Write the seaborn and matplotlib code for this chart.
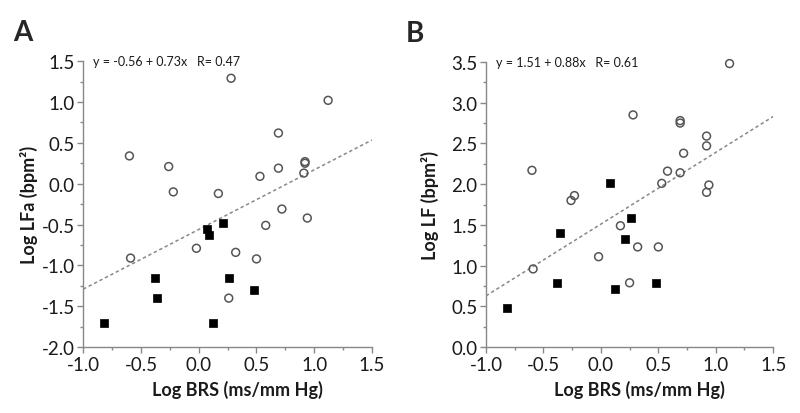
import numpy as np
import pandas as pd
import matplotlib
matplotlib.use("Agg")
import matplotlib.pyplot as plt
from matplotlib.ticker import MultipleLocator, FormatStrFormatter
import seaborn as sb

sb.set_style("ticks")
plt.rcParams["font.family"] = ["Lato", "DejaVu Sans"]

# panel A: Log LFa vs Log BRS
a_open_x = [-0.60, -0.26, -0.22, 0.17, 0.28, 0.53, 0.69, 0.69, 0.92, 0.92, 0.91, 1.12,
            0.72, 0.58, 0.94, -0.02, -0.59, 0.32, 0.50, 0.26]
a_open_y = [0.34, 0.21, -0.10, -0.12, 1.29, 0.09, 0.62, 0.19, 0.27, 0.25, 0.13, 1.02,
            -0.31, -0.51, -0.42, -0.79, -0.91, -0.84, -0.92, -1.40]
a_fill_x = [0.07, 0.09, 0.21, -0.38, -0.36, 0.26, 0.48, -0.82, 0.12]
a_fill_y = [-0.55, -0.63, -0.48, -1.15, -1.40, -1.15, -1.30, -1.71, -1.71]
a_fit = (-0.56, 0.73)
a_text = "y = -0.56 + 0.73x   R= 0.47"

# panel B: Log LF vs Log BRS
b_open_x = [-0.60, -0.26, -0.23, 0.28, 0.53, 0.58, 0.69, 0.69, 0.69, 0.72, 0.92, 0.92,
            0.92, 0.94, 1.12, 0.17, -0.02, -0.59, 0.32, 0.50, 0.25]
b_open_y = [2.17, 1.80, 1.86, 2.85, 2.01, 2.16, 2.78, 2.75, 2.14, 2.38, 2.59, 2.47,
            1.90, 1.99, 3.48, 1.49, 1.11, 0.96, 1.23, 1.23, 0.79]
b_fill_x = [0.08, 0.26, -0.36, 0.21, -0.38, 0.12, 0.48, -0.82]
b_fill_y = [2.01, 1.58, 1.40, 1.33, 0.79, 0.71, 0.79, 0.48]
b_fit = (1.51, 0.88)
b_text = "y = 1.51 + 0.88x   R= 0.61"

fig = plt.figure(figsize=(8, 4.14), dpi=100)
ax_a = fig.add_axes([0.104, 0.159, 0.361, 0.691])
ax_b = fig.add_axes([0.6075, 0.159, 0.359, 0.689])

panels = [
    (ax_a, a_open_x, a_open_y, a_fill_x, a_fill_y, a_fit, a_text, (-2.0, 1.5),
     "Log LFa (bpm²)", "A", -0.243, -0.155),
    (ax_b, b_open_x, b_open_y, b_fill_x, b_fill_y, b_fit, b_text, (0.0, 3.5),
     "Log LF (bpm²)", "B", -0.279, -0.165),
]

for ax, ox, oy, fx, fy, fit, txt, ylim, ylab, letter, lx, ylx in panels:
    ax.axline((0, fit[0]), slope=fit[1], color="#888888", linestyle=(0, (2.2, 1.8)), lw=1.1, zorder=1)
    sb.scatterplot(x=ox, y=oy, ax=ax, marker="o", s=32, facecolors="none",
                   edgecolor="#555555", linewidth=1.1, zorder=3, clip_on=False)
    sb.scatterplot(x=fx, y=fy, ax=ax, marker="s", s=30, color="black",
                   edgecolor="black", linewidth=0.5, zorder=3, clip_on=False)
    ax.set_xlim(-1.0, 1.5)
    ax.set_ylim(*ylim)
    ax.xaxis.set_major_locator(MultipleLocator(0.5))
    ax.xaxis.set_minor_locator(MultipleLocator(0.25))
    ax.yaxis.set_major_locator(MultipleLocator(0.5))
    ax.yaxis.set_minor_locator(MultipleLocator(0.25))
    ax.xaxis.set_major_formatter(FormatStrFormatter("%.1f"))
    ax.yaxis.set_major_formatter(FormatStrFormatter("%.1f"))
    sb.despine(ax=ax)
    for s in ("left", "bottom"):
        ax.spines[s].set_color("#888888")
        ax.spines[s].set_linewidth(1.0)
    ax.tick_params(which="major", length=4, width=1, color="#888888", labelsize=13.5,
                   labelcolor="#1a1a1a", pad=2)
    ax.tick_params(which="minor", length=2.5, width=1, color="#888888")
    ax.set_xlabel("Log BRS (ms/mm Hg)", fontsize=13, fontweight="bold", color="#1a1a1a")
    ax.set_ylabel(ylab, fontsize=13, fontweight="bold", color="#1a1a1a")
    ax.xaxis.set_label_coords(0.535, -0.115)
    ax.yaxis.set_label_coords(ylx, 0.5)
    ax.text(0.035, 1.0, txt, transform=ax.transAxes, fontsize=9, color="#1a1a1a",
            ha="left", va="center")
    ax.text(lx, 1.101, letter, transform=ax.transAxes, fontsize=20, fontweight="bold",
            ha="left", va="center")

fig.savefig("out.png", dpi=100)
